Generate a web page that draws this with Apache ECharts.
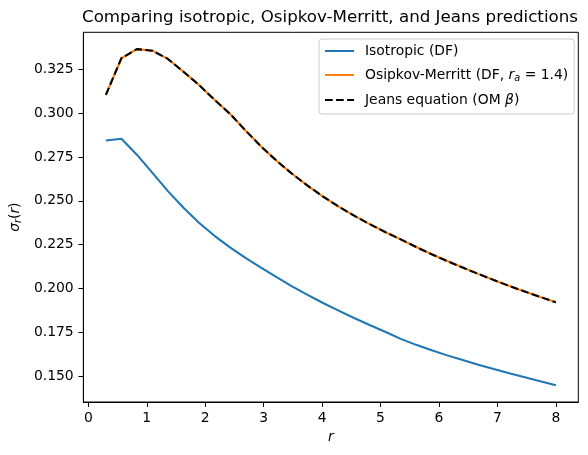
<!DOCTYPE html>
<html>
<head>
<meta charset="utf-8">
<script src="https://cdn.jsdelivr.net/npm/echarts@6/dist/echarts.min.js"></script>
<style>
  html, body { margin: 0; padding: 0; background: #fff; }
  #chart { width: 588px; height: 455px; }
</style>
</head>
<body>
<div id="chart"></div>
<script>
// radii (linspace 0.3 .. 8, 30 points)
const radii = [0.3, 0.566, 0.831, 1.097, 1.362, 1.628, 1.893, 2.159, 2.424, 2.690,
  2.955, 3.221, 3.486, 3.752, 4.017, 4.283, 4.548, 4.814, 5.079, 5.345,
  5.610, 5.876, 6.141, 6.407, 6.672, 6.938, 7.203, 7.469, 7.734, 8.0];

const isoSigma = [0.2844, 0.2854, 0.2763, 0.2659, 0.2555, 0.2460, 0.2375, 0.2300, 0.2234, 0.2174,
  0.2119, 0.2064, 0.2012, 0.1963, 0.1917, 0.1873, 0.1831, 0.1791, 0.1753, 0.1712,
  0.1678, 0.1647, 0.1618, 0.1591, 0.1565, 0.1540, 0.1516, 0.1493, 0.1470, 0.1448];

const omSigma = [0.3104, 0.3313, 0.3365, 0.3356, 0.3309, 0.3236, 0.3161, 0.3076, 0.2996, 0.2901,
  0.2810, 0.2728, 0.2654, 0.2586, 0.2524, 0.2467, 0.2415, 0.2367, 0.2322, 0.2280,
  0.2236, 0.2195, 0.2156, 0.2119, 0.2083, 0.2048, 0.2014, 0.1982, 0.1951, 0.1921];

const jeansSigma = [0.3104, 0.3313, 0.3365, 0.3356, 0.3309, 0.3236, 0.3161, 0.3076, 0.2996, 0.2901,
  0.2810, 0.2728, 0.2654, 0.2586, 0.2524, 0.2467, 0.2415, 0.2367, 0.2322, 0.2280,
  0.2236, 0.2195, 0.2156, 0.2119, 0.2083, 0.2048, 0.2014, 0.1982, 0.1951, 0.1921];

const xTicks = [0, 1, 2, 3, 4, 5, 6, 7, 8];
const yTicks = [0.150, 0.175, 0.200, 0.225, 0.250, 0.275, 0.300, 0.325];

const FONT = 'DejaVu Sans';
const LW = 2.08; // 1.5pt at 100 dpi

function pairs(ys) {
  return radii.map((r, i) => [r, ys[i]]);
}

const legendNames = {
  'iso': '{n|Isotropic (DF)}',
  'om': '{n|Osipkov-Merritt (DF, }{i|r}{s|a}{n| = 1.4)}',
  'jeans': '{n|Jeans equation (OM }{i|β}{n|)}'
};

const chart = echarts.init(document.getElementById('chart'), null, {renderer: 'canvas'});

chart.setOption({
  backgroundColor: '#fff',
  animation: false,
  textStyle: { fontFamily: FONT },
  title: {
    text: 'Comparing isotropic, Osipkov-Merritt, and Jeans predictions',
    left: 330,
    top: 9,
    padding: 0,
    textAlign: 'center',
    textStyle: { fontFamily: FONT, fontSize: 16.7, fontWeight: 'normal', color: '#000' }
  },
  grid: {
    left: 82.5,
    right: 9.7,
    top: 32.3,
    bottom: 53,
    show: true,
    borderColor: '#000',
    borderWidth: 1,
    containLabel: false
  },
  legend: {
    orient: 'vertical',
    left: 319,
    top: 39,
    padding: [5, 6, 7, 5],
    itemWidth: 29,
    itemHeight: 14,
    itemGap: 10,
    backgroundColor: 'rgba(255,255,255,0.8)',
    borderColor: '#cccccc',
    borderWidth: 1,
    borderRadius: 3,
    itemStyle: { opacity: 0 },
    data: ['iso', 'om', 'jeans'],
    formatter: function (name) {
      return legendNames[name];
    },
    textStyle: {
      padding: [0, 0, 0, 6],
      rich: {
        n: { fontFamily: FONT, fontSize: 13.9, color: '#000' },
        i: { fontFamily: FONT, fontSize: 13.9, fontStyle: 'italic', color: '#000' },
        s: { fontFamily: FONT, fontSize: 9.7, fontStyle: 'italic', color: '#000', padding: [6, 0, 0, 0] }
      }
    }
  },
  xAxis: {
    type: 'value',
    min: -0.085,
    max: 8.385,
    name: 'r',
    nameLocation: 'middle',
    nameGap: 27,
    nameTextStyle: { fontFamily: FONT, fontSize: 13.9, fontStyle: 'italic', color: '#000' },
    splitLine: { show: false },
    axisLine: { show: true, onZero: false, lineStyle: { color: '#000', width: 1 } },
    axisTick: { show: true, length: 4.9, customValues: xTicks, lineStyle: { color: '#000', width: 1 } },
    axisLabel: {
      customValues: xTicks,
      margin: 9.7,
      color: '#000',
      fontFamily: FONT,
      fontSize: 13.9
    }
  },
  yAxis: {
    type: 'value',
    min: 0.1352,
    max: 0.3461,
    name: '{i|σ}{s|r}{n|(}{i|r}{n|)}',
    nameLocation: 'middle',
    nameGap: 56,
    nameTextStyle: {
      rich: {
        n: { fontFamily: FONT, fontSize: 13.9, color: '#000' },
        i: { fontFamily: FONT, fontSize: 13.9, fontStyle: 'italic', color: '#000' },
        s: { fontFamily: FONT, fontSize: 9.7, fontStyle: 'italic', color: '#000', padding: [6, 0, 0, 0] }
      }
    },
    splitLine: { show: false },
    axisLine: { show: true, onZero: false, lineStyle: { color: '#000', width: 1 } },
    axisTick: { show: true, length: 4.9, customValues: yTicks, lineStyle: { color: '#000', width: 1 } },
    axisLabel: {
      customValues: yTicks,
      margin: 9.7,
      color: '#000',
      fontFamily: FONT,
      fontSize: 13.9,
      formatter: function (v) { return v.toFixed(3); }
    }
  },
  series: [
    {
      name: 'iso',
      type: 'line',
      data: pairs(isoSigma),
      symbol: 'none',
      lineStyle: { color: '#1f77b4', width: LW },
      itemStyle: { color: '#1f77b4' }
    },
    {
      name: 'om',
      type: 'line',
      data: pairs(omSigma),
      symbol: 'none',
      lineStyle: { color: '#ff7f0e', width: LW },
      itemStyle: { color: '#ff7f0e' }
    },
    {
      name: 'jeans',
      type: 'line',
      data: pairs(jeansSigma),
      symbol: 'none',
      lineStyle: { color: '#000', width: LW, type: [7.7, 3.33] },
      itemStyle: { color: '#000' }
    }
  ]
});
</script>
</body>
</html>
